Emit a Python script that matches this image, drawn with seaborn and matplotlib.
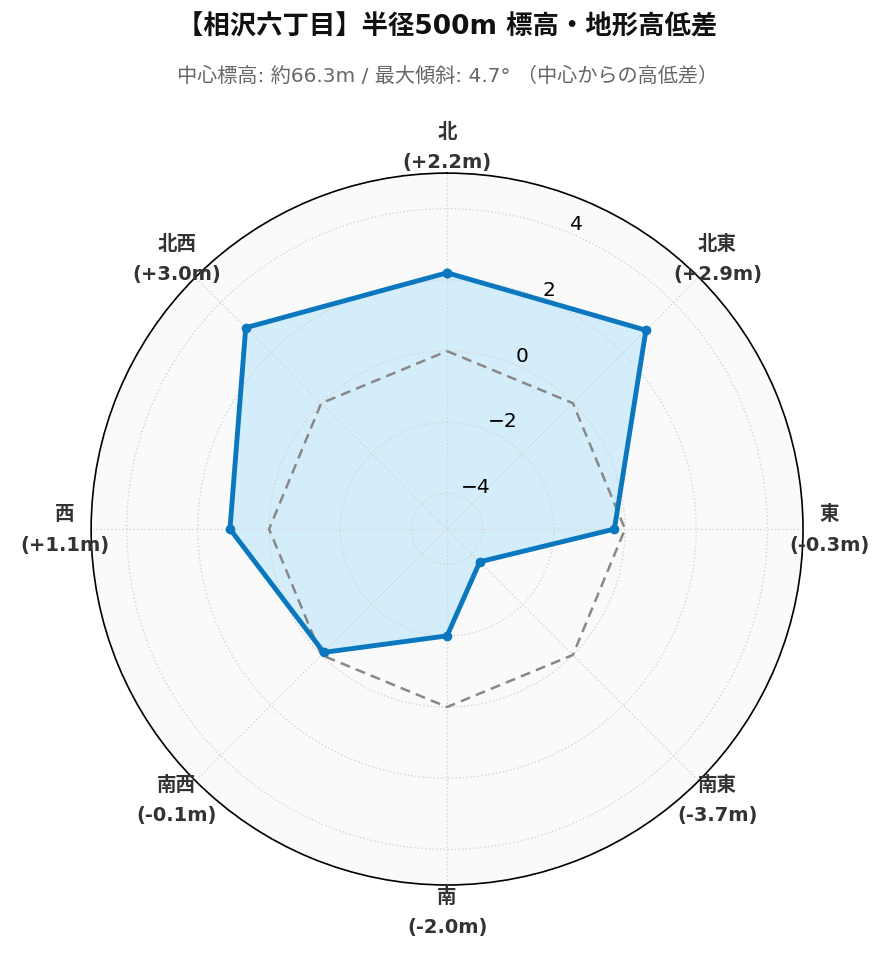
import numpy as np
import pandas as pd
import matplotlib
matplotlib.use("Agg")
import matplotlib.pyplot as plt
import seaborn as sns

# data
directions = ["北", "北東", "東", "南東", "南", "南西", "西", "北西"]
diffs = [2.2, 2.9, -0.3, -3.7, -2.0, -0.1, 1.1, 3.0]
r_ticks = [-4, -2, 0, 2, 4]
title = "【相沢六丁目】半径500m 標高・地形高低差"
subtitle = "中心標高: 約66.3m / 最大傾斜: 4.7° （中心からの高低差）"

sns.set_theme(style="white")
plt.rcParams["font.family"] = ["DejaVu Sans", "Noto Sans CJK JP"]

angles = np.linspace(0, 2 * np.pi, len(directions), endpoint=False)
# close the polygon at 2*pi so seaborn does not merge it with the first point
df = pd.DataFrame({
    "theta": np.append(angles, 2 * np.pi),
    "diff": diffs + [diffs[0]],
    "zero": 0.0,
})

fig = plt.figure(figsize=(8.89, 9.62), dpi=100)
ax = fig.add_axes([0.1024, 0.079, 0.801, 0.740], projection="polar")
ax.set_theta_offset(np.pi / 2)
ax.set_theta_direction(-1)
ax.set_facecolor("#fafafa")
ax.set_axisbelow(False)

# zero reference
sns.lineplot(data=df, x="theta", y="zero", ax=ax, sort=False, estimator=None,
             color="#888888", linewidth=1.8, linestyle=(0, (4, 2.5)), zorder=3)

ax.fill(df["theta"], df["diff"], color="#d3edfa", zorder=2)
sns.lineplot(data=df, x="theta", y="diff", ax=ax, sort=False, estimator=None,
             color="#0a77be", linewidth=3.5, marker="o", markersize=7,
             markeredgewidth=0, zorder=4)

ax.set_ylim(-5, 5)
ax.set_yticks(r_ticks)
ax.set_yticklabels([f"{t}".replace("-", "\u2212") for t in r_ticks], fontsize=14.5)
ax.tick_params(axis="y", labelcolor="black")
ax.set_rlabel_position(22.5)

ax.set_xticks(angles)
labels = [f"{d}\n({v:+.1f}m)" for d, v in zip(directions, diffs)]
ax.set_xticklabels(labels, fontsize=14, fontweight="bold", color="#333333",
                   linespacing=1.75)
ax.tick_params(axis="x", pad=6)

ax.grid(True, color="#d5d5d5", linestyle=":", linewidth=1.0)
ax.spines["polar"].set_color("black")
ax.spines["polar"].set_linewidth(1.2)
ax.set_xlabel("")
ax.set_ylabel("")

fig.text(0.503, 0.971, title, ha="center", va="center", fontsize=19,
         fontweight="bold", color="#111111")
fig.text(0.503, 0.921, subtitle, ha="center", va="center", fontsize=14.5,
         color="#666666")

fig.savefig("out.png", dpi=100, facecolor="white")
